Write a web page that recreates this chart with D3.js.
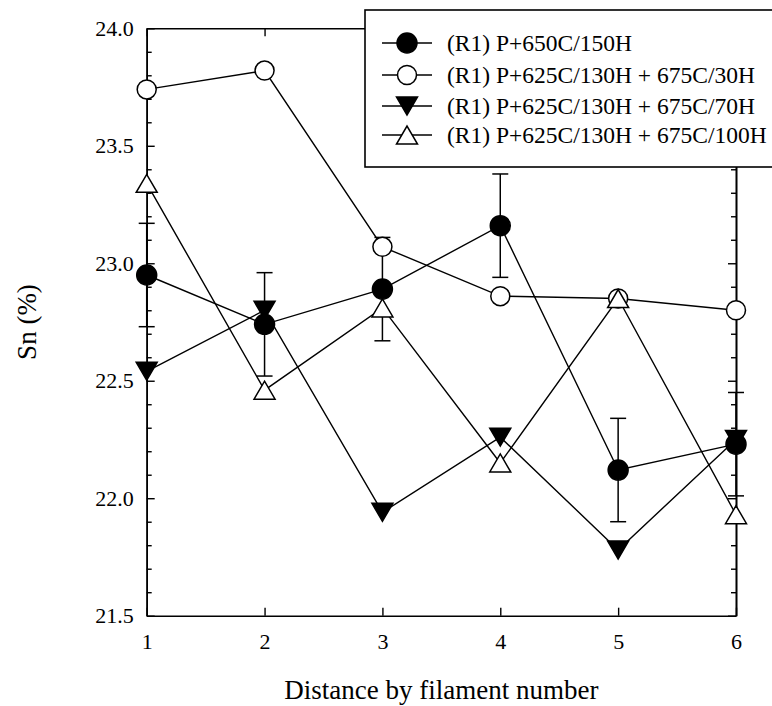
<!DOCTYPE html>
<html>
<head>
<meta charset="utf-8">
<script src="https://cdn.jsdelivr.net/npm/d3@7"></script>
<style>
  html, body { margin: 0; padding: 0; background: #fff; }
  svg { display: block; font-family: "Liberation Serif", "Times New Roman", serif; }
</style>
</head>
<body>
<svg id="chart" width="772" height="706"></svg>
<script>
// Filament positions along the wire
const filaments = [1, 2, 3, 4, 5, 6];

// Sn content (%) for each heat treatment
const snP650 = [22.95, 22.74, 22.89, 23.16, 22.12, 22.23];
const snErrP650 = [0.22, 0.22, 0.22, 0.22, 0.22, 0.22];
const snP625_675_30 = [23.74, 23.82, 23.07, 22.86, 22.85, 22.80];
const snP625_675_70 = [22.54, 22.80, 21.94, 22.26, 21.78, 22.25];
const snP625_675_100 = [23.34, 22.46, 22.81, 22.15, 22.85, 21.93];

const seriesNames = [
  "(R1) P+650C/150H",
  "(R1) P+625C/130H + 675C/30H",
  "(R1) P+625C/130H + 675C/70H",
  "(R1) P+625C/130H + 675C/100H"
];

const yMajorTicks = [21.5, 22.0, 22.5, 23.0, 23.5, 24.0];
const xTicks = [1, 2, 3, 4, 5, 6];

const svg = d3.select("#chart");
const L = 146.7, R = 736, T = 28.3, B = 615.7;

const x = d3.scaleLinear().domain([1, 6]).range([L, R]);
const y = d3.scaleLinear().domain([21.5, 24]).range([B, T]);

const minorTicks = d3.range(215, 241).map(v => v / 10).filter(v => Math.abs(v * 2 - Math.round(v * 2)) > 1e-6);

const axisStroke = 1.6;
function styleAxis(g) {
  g.attr("font-family", null).attr("font-size", null);
  g.selectAll("path.domain").attr("stroke", "#000").attr("stroke-width", axisStroke);
  g.selectAll(".tick line").attr("stroke", "#000").attr("stroke-width", 1.4);
  g.selectAll(".tick text").attr("fill", "#000").attr("font-size", 22)
    .attr("font-family", "Liberation Serif, Times New Roman, serif");
}

// Left axis: labelled majors + inward minors
svg.append("g").attr("transform", `translate(${L},0)`)
  .call(d3.axisLeft(y).tickValues(minorTicks).tickSize(-5).tickSizeOuter(0).tickFormat(""))
  .call(styleAxis);
svg.append("g").attr("transform", `translate(${L},0)`)
  .call(d3.axisLeft(y).tickValues(yMajorTicks).tickSize(-8).tickSizeOuter(0).tickPadding(13).tickFormat(d3.format(".1f")))
  .call(styleAxis);

// Right axis
svg.append("g").attr("transform", `translate(${R},0)`)
  .call(d3.axisRight(y).tickValues(minorTicks).tickSize(-5).tickSizeOuter(0).tickFormat(""))
  .call(styleAxis);
svg.append("g").attr("transform", `translate(${R},0)`)
  .call(d3.axisRight(y).tickValues(yMajorTicks).tickSize(-8).tickSizeOuter(0).tickFormat(""))
  .call(styleAxis);

// Bottom axis
svg.append("g").attr("transform", `translate(0,${B})`)
  .call(d3.axisBottom(x).tickValues(xTicks).tickSize(-8).tickSizeOuter(0).tickPadding(18).tickFormat(d3.format("d")))
  .call(styleAxis);

// Top axis
svg.append("g").attr("transform", `translate(0,${T})`)
  .call(d3.axisTop(x).tickValues(xTicks).tickSize(-8).tickSizeOuter(0).tickFormat(""))
  .call(styleAxis);

// Axis titles
svg.append("text")
  .attr("x", (L + R) / 2).attr("y", 699)
  .attr("text-anchor", "middle").attr("font-size", 27)
  .text("Distance by filament number");
svg.append("text")
  .attr("transform", `translate(36,${(T + B) / 2}) rotate(-90)`)
  .attr("text-anchor", "middle").attr("font-size", 27)
  .text("Sn (%)");

// Marker shapes
const symbols = [
  { type: d3.symbolCircle, fill: "#000", size: Math.PI * 10 * 10 },
  { type: d3.symbolCircle, fill: "#fff", size: Math.PI * 9.5 * 9.5 },
  { type: "down", fill: "#000" },
  { type: "up", fill: "#fff" }
];

function markerPath(sym) {
  if (sym.type === "down") return "M-10.5,-9L10.5,-9L0,9Z";
  if (sym.type === "up") return "M-10.5,9L10.5,9L0,-9Z";
  return d3.symbol().type(sym.type).size(sym.size)();
}

const allSeries = [snP650, snP625_675_30, snP625_675_70, snP625_675_100];

// Error bars on the first series
const eb = svg.append("g");
filaments.forEach((f, i) => {
  const cx = x(f), lo = y(snP650[i] - snErrP650[i]), hi = y(snP650[i] + snErrP650[i]);
  eb.append("line").attr("x1", cx).attr("x2", cx).attr("y1", lo).attr("y2", hi)
    .attr("stroke", "#000").attr("stroke-width", 1.5);
  [lo, hi].forEach(yy => eb.append("line").attr("x1", cx - 8).attr("x2", cx + 8)
    .attr("y1", yy).attr("y2", yy).attr("stroke", "#000").attr("stroke-width", 1.5));
});

const line = d3.line().x((d, i) => x(filaments[i])).y(d => y(d));

allSeries.forEach((vals, s) => {
  const g = svg.append("g");
  g.append("path").datum(vals).attr("d", line)
    .attr("fill", "none").attr("stroke", "#000").attr("stroke-width", 1.4);
  g.selectAll("path.m").data(vals).enter().append("path").attr("class", "m")
    .attr("transform", (d, i) => `translate(${x(filaments[i])},${y(d)})`)
    .attr("d", markerPath(symbols[s]))
    .attr("fill", symbols[s].fill).attr("stroke", "#000").attr("stroke-width", 1.5);
});

// Legend
const lg = svg.append("g");
lg.append("rect").attr("x", 365).attr("y", 10).attr("width", 420).attr("height", 157)
  .attr("fill", "#fff").attr("stroke", "#000").attr("stroke-width", 1.6);
const rowY = [43, 75, 106, 135];
seriesNames.forEach((name, s) => {
  const ry = rowY[s];
  lg.append("line").attr("x1", 382).attr("x2", 432).attr("y1", ry).attr("y2", ry)
    .attr("stroke", "#000").attr("stroke-width", 1.4);
  lg.append("path").attr("transform", `translate(407,${ry})`)
    .attr("d", markerPath(symbols[s]))
    .attr("fill", symbols[s].fill).attr("stroke", "#000").attr("stroke-width", 1.5);
  lg.append("text").attr("x", 447).attr("y", ry + 8).attr("font-size", 23.5).text(name);
});
</script>
</body>
</html>
